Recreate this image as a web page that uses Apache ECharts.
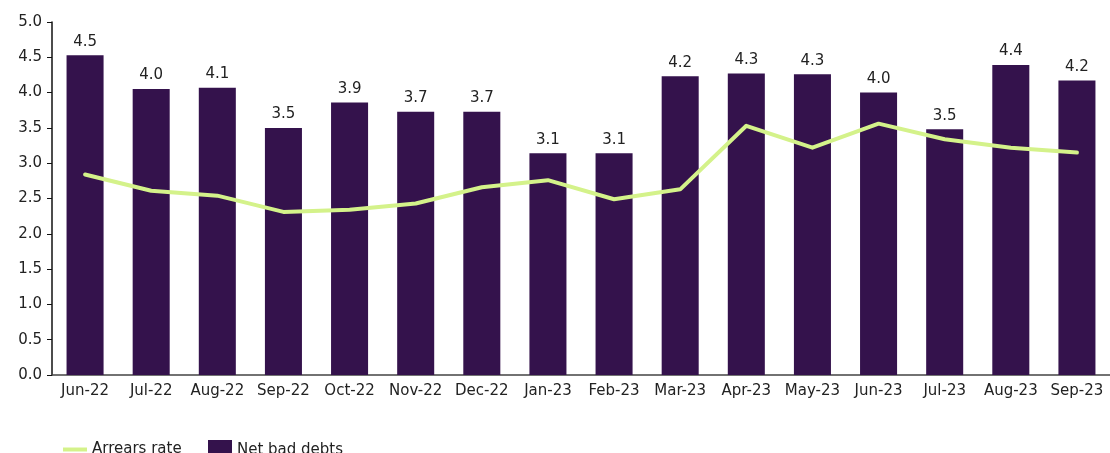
<!DOCTYPE html>
<html>
<head>
<meta charset="utf-8">
<script src="https://cdn.jsdelivr.net/npm/echarts@6/dist/echarts.min.js"></script>
<style>
  html, body { margin: 0; padding: 0; background: #fff; }
  #main { width: 1110px; height: 453px; }
</style>
</head>
<body>
<div id="main"></div>
<script>
  // data
  var months = ['Jun-22', 'Jul-22', 'Aug-22', 'Sep-22', 'Oct-22', 'Nov-22', 'Dec-22', 'Jan-23',
    'Feb-23', 'Mar-23', 'Apr-23', 'May-23', 'Jun-23', 'Jul-23', 'Aug-23', 'Sep-23'];
  var netBadDebts = [4.53, 4.05, 4.07, 3.50, 3.86, 3.73, 3.73, 3.14, 3.14, 4.23, 4.27, 4.26, 4.00, 3.48, 4.39, 4.17];
  var arrearsRate = [2.84, 2.61, 2.54, 2.31, 2.34, 2.43, 2.66, 2.76, 2.49, 2.63, 3.53, 3.22, 3.56, 3.34, 3.22, 3.15];

  var myChart = echarts.init(document.getElementById('main'));
  var font = 'DejaVu Sans';
  var txt = '#222';
  var legendText = { fontFamily: font, fontSize: 15, color: txt };

  var option = {
    animation: false,
    grid: { left: 52, right: -5, top: 22, bottom: 78 },
    // two legends so the line icon can be thin and the bar icon a block
    legend: [
      {
        left: 58, top: 437,
        itemWidth: 24, itemHeight: 4, icon: 'rect',
        textStyle: legendText,
        data: ['Arrears rate']
      },
      {
        left: 203, top: 435,
        itemWidth: 24, itemHeight: 20, icon: 'rect',
        textStyle: legendText,
        data: ['Net bad debts']
      }
    ],
    xAxis: {
      type: 'category',
      data: months,
      axisLine: { lineStyle: { color: '#444', width: 1.5 } },
      axisTick: { show: false },
      axisLabel: { fontFamily: font, fontSize: 15, color: txt, margin: 9, interval: 0 }
    },
    yAxis: {
      type: 'value',
      min: 0,
      max: 5,
      interval: 0.5,
      splitLine: { show: false },
      axisLine: { show: true, lineStyle: { color: '#111', width: 1.5 } },
      axisTick: { show: true, length: 5, lineStyle: { color: '#111' } },
      axisLabel: {
        fontFamily: font, fontSize: 15, color: txt, margin: 10,
        formatter: function (v) { return v.toFixed(1); }
      }
    },
    series: [
      {
        name: 'Net bad debts',
        type: 'bar',
        data: netBadDebts,
        barWidth: '56%',
        itemStyle: { color: '#34124c' },
        label: {
          show: true,
          position: 'top',
          distance: 6,
          fontFamily: font,
          fontSize: 15,
          color: txt,
          formatter: function (p) { return p.value.toFixed(1); }
        }
      },
      {
        name: 'Arrears rate',
        type: 'line',
        data: arrearsRate,
        symbol: 'none',
        smooth: false,
        z: 5,
        lineStyle: { color: '#d4f28a', width: 4, join: 'round', cap: 'round' },
        itemStyle: { color: '#d4f28a' }
      }
    ]
  };
  myChart.setOption(option);
</script>
</body>
</html>
